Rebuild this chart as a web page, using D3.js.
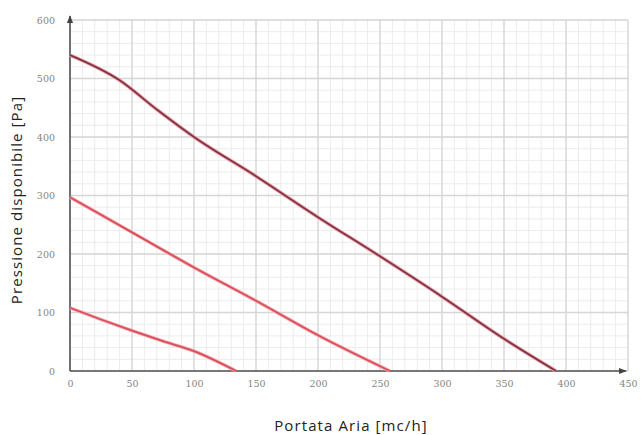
<!DOCTYPE html>
<html><head><meta charset="utf-8">
<script src="https://cdn.jsdelivr.net/npm/d3@7"></script>
<style>body{margin:0;background:#fff;}svg{display:block;}</style>
</head><body>
<svg id="c" width="644" height="435"></svg>
<script>
const xTicks = [0,50,100,150,200,250,300,350,400,450];
const yTicks = [0,100,200,300,400,500,600];
const curveHighX = [0,40,70,100,150,200,250,300,350,392];
const curveHighY = [540,497,447,400,333,263,196,127,55,0];
const curveMidX = [0,50,100,150,200,258];
const curveMidY = [297,237,177,120,61,0];
const curveLowX = [0,25,50,75,100,134];
const curveLowY = [108,88,69,51,34,0];
const xLabel = "Portata Aria [mc/h]";
const yLabel = "Pressione disponibile [Pa]";

const svg = d3.select("#c");
const x = d3.scaleLinear().domain([0,450]).range([70,628]);
const y = d3.scaleLinear().domain([0,600]).range([371,20]);

const g = svg.append("g");
// minor grid
g.selectAll("line.mx").data(d3.range(0,451,10)).join("line")
  .attr("x1",d=>x(d)).attr("x2",d=>x(d)).attr("y1",y(0)).attr("y2",y(600))
  .attr("stroke","#ececec").attr("stroke-width",1);
g.selectAll("line.my").data(d3.range(0,601,20)).join("line")
  .attr("y1",d=>y(d)).attr("y2",d=>y(d)).attr("x1",x(0)).attr("x2",x(450))
  .attr("stroke","#ececec").attr("stroke-width",1);
// major grid
g.selectAll("line.Mx").data(xTicks).join("line")
  .attr("x1",d=>x(d)).attr("x2",d=>x(d)).attr("y1",y(0)).attr("y2",y(600))
  .attr("stroke","#d6d6d6").attr("stroke-width",1.3);
g.selectAll("line.My").data(yTicks).join("line")
  .attr("y1",d=>y(d)).attr("y2",d=>y(d)).attr("x1",x(0)).attr("x2",x(450))
  .attr("stroke","#d6d6d6").attr("stroke-width",1.3);

// axes
const xAxis = d3.axisBottom(x).tickValues(xTicks).tickSize(0).tickPadding(9).tickFormat(d3.format("d"));
const yAxis = d3.axisLeft(y).tickValues(yTicks).tickSize(0).tickPadding(15).tickFormat(d3.format("d"));
const gx = svg.append("g").attr("transform",`translate(0,${y(0)})`).call(xAxis);
const gy = svg.append("g").attr("transform",`translate(${x(0)},0)`).call(yAxis);
[gx,gy].forEach(a=>{
  a.select(".domain").remove();
  a.selectAll("text").attr("font-family","DejaVu Serif, serif").attr("font-size",9.5).attr("fill","#858585");
});

// axis lines with arrows
svg.append("defs").append("marker").attr("id","arr").attr("viewBox","0 0 10 10")
  .attr("refX",9).attr("refY",5).attr("markerWidth",5).attr("markerHeight",5).attr("orient","auto")
  .append("path").attr("d","M0,1L10,5L0,9Z").attr("fill","#444");
svg.append("line").attr("x1",x(0)).attr("x2",x(0)).attr("y1",y(0)).attr("y2",y(600)-4)
  .attr("stroke","#555").attr("stroke-width",1.6).attr("marker-end","url(#arr)");
svg.append("line").attr("x1",x(0)).attr("x2",x(450)-2).attr("y1",y(0)).attr("y2",y(0))
  .attr("stroke","#555").attr("stroke-width",1.6).attr("marker-end","url(#arr)");

const line = d3.line().x(d=>x(d[0])).y(d=>y(d[1])).curve(d3.curveMonotoneX);
const hi = curveHighX.map((v,i)=>[v,curveHighY[i]]);
const mid = curveMidX.map((v,i)=>[v,curveMidY[i]]);
const lo = curveLowX.map((v,i)=>[v,curveLowY[i]]);

svg.append("path").datum(hi).attr("d",line).attr("fill","none").attr("stroke","#f2a3ad").attr("stroke-width",3.6);
svg.append("path").datum(hi).attr("d",line).attr("fill","none").attr("stroke","#7e3544").attr("stroke-width",1.8);
[mid,lo].forEach(dat=>{
  svg.append("path").datum(dat).attr("d",line).attr("fill","none").attr("stroke","#f4a6ae").attr("stroke-width",3.4);
  svg.append("path").datum(dat).attr("d",line).attr("fill","none").attr("stroke","#d9505c").attr("stroke-width",1.8);
});

svg.append("text").attr("x",351).attr("y",431).attr("text-anchor","middle")
  .attr("font-family","Open Sans, sans-serif").attr("font-size",15).attr("letter-spacing",1.1)
  .attr("fill","#222").text(xLabel);
svg.append("text").attr("transform","translate(22,200) rotate(-90)").attr("text-anchor","middle")
  .attr("font-family","Open Sans, sans-serif").attr("font-size",15).attr("letter-spacing",1.1)
  .attr("fill","#222").text(yLabel);
</script>
</body></html>
